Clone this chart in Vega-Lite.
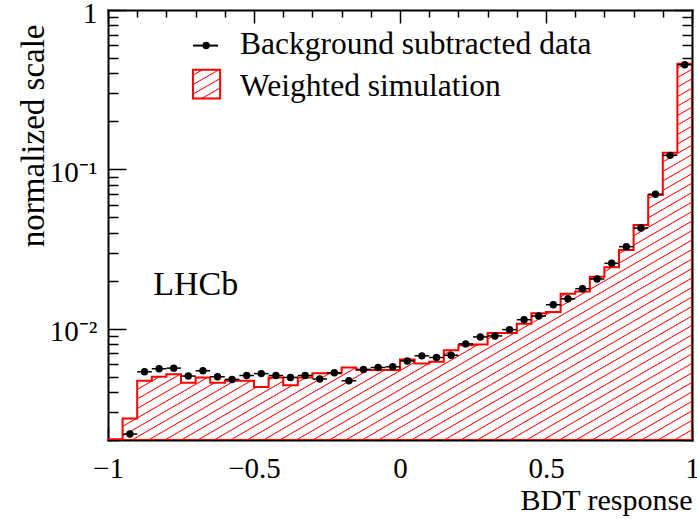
{
  "$schema": "https://vega.github.io/schema/vega-lite/v6.json",
  "width": 584,
  "height": 430,
  "autosize": {"type": "none"},
  "padding": {"left": 108, "top": 10, "right": 5, "bottom": 79},
  "background": "white",
  "config": {
    "view": {"stroke": null},
    "axis": {"labelFont": "Liberation Serif", "titleFont": "Liberation Serif", "domainColor": "black", "domainWidth": 2, "domainCap": "square", "tickColor": "black", "tickWidth": 1.5, "labelColor": "black", "titleColor": "black", "grid": false, "titleFontWeight": "normal", "labelFlush": false, "labelOverlap": false, "zindex": 1}
  },
  "data": {"values": [
    {"lo": -1, "hi": -0.95, "mid": -0.975, "sim": 0.00202, "data": null},
    {"lo": -0.95, "hi": -0.9, "mid": -0.925, "sim": 0.00273, "data": 0.00218},
    {"lo": -0.9, "hi": -0.85, "mid": -0.875, "sim": 0.00471, "data": 0.00536},
    {"lo": -0.85, "hi": -0.8, "mid": -0.825, "sim": 0.00499, "data": 0.0056},
    {"lo": -0.8, "hi": -0.75, "mid": -0.775, "sim": 0.00518, "data": 0.00565},
    {"lo": -0.75, "hi": -0.7, "mid": -0.725, "sim": 0.00458, "data": 0.00504},
    {"lo": -0.7, "hi": -0.65, "mid": -0.675, "sim": 0.00494, "data": 0.00544},
    {"lo": -0.65, "hi": -0.6, "mid": -0.625, "sim": 0.00458, "data": 0.00499},
    {"lo": -0.6, "hi": -0.55, "mid": -0.575, "sim": 0.00471, "data": 0.0048},
    {"lo": -0.55, "hi": -0.5, "mid": -0.525, "sim": 0.00471, "data": 0.00508},
    {"lo": -0.5, "hi": -0.45, "mid": -0.475, "sim": 0.0043, "data": 0.00522},
    {"lo": -0.45, "hi": -0.4, "mid": -0.425, "sim": 0.00494, "data": 0.00508},
    {"lo": -0.4, "hi": -0.35, "mid": -0.375, "sim": 0.00442, "data": 0.00494},
    {"lo": -0.35, "hi": -0.3, "mid": -0.325, "sim": 0.00494, "data": 0.00508},
    {"lo": -0.3, "hi": -0.25, "mid": -0.275, "sim": 0.00525, "data": 0.00483},
    {"lo": -0.25, "hi": -0.2, "mid": -0.225, "sim": 0.00525, "data": 0.00528},
    {"lo": -0.2, "hi": -0.15, "mid": -0.175, "sim": 0.0057, "data": 0.00471},
    {"lo": -0.15, "hi": -0.1, "mid": -0.125, "sim": 0.0055, "data": 0.00555},
    {"lo": -0.1, "hi": -0.05, "mid": -0.075, "sim": 0.0055, "data": 0.0057},
    {"lo": -0.05, "hi": 0, "mid": -0.025, "sim": 0.0055, "data": 0.00576},
    {"lo": 0, "hi": 0.05, "mid": 0.025, "sim": 0.0064, "data": 0.00627},
    {"lo": 0.05, "hi": 0.1, "mid": 0.075, "sim": 0.00604, "data": 0.00675},
    {"lo": 0.1, "hi": 0.15, "mid": 0.125, "sim": 0.00619, "data": 0.00659},
    {"lo": 0.15, "hi": 0.2, "mid": 0.175, "sim": 0.00732, "data": 0.00681},
    {"lo": 0.2, "hi": 0.25, "mid": 0.225, "sim": 0.00787, "data": 0.00802},
    {"lo": 0.25, "hi": 0.3, "mid": 0.275, "sim": 0.00794, "data": 0.00887},
    {"lo": 0.3, "hi": 0.35, "mid": 0.325, "sim": 0.0094, "data": 0.009},
    {"lo": 0.35, "hi": 0.4, "mid": 0.375, "sim": 0.0094, "data": 0.00986},
    {"lo": 0.4, "hi": 0.45, "mid": 0.425, "sim": 0.01075, "data": 0.01138},
    {"lo": 0.45, "hi": 0.5, "mid": 0.475, "sim": 0.0125, "data": 0.012},
    {"lo": 0.5, "hi": 0.55, "mid": 0.525, "sim": 0.0127, "data": 0.01413},
    {"lo": 0.55, "hi": 0.6, "mid": 0.575, "sim": 0.01655, "data": 0.0154},
    {"lo": 0.6, "hi": 0.65, "mid": 0.625, "sim": 0.0171, "data": 0.0178},
    {"lo": 0.65, "hi": 0.7, "mid": 0.675, "sim": 0.0212, "data": 0.0205},
    {"lo": 0.7, "hi": 0.75, "mid": 0.725, "sim": 0.0243, "data": 0.0257},
    {"lo": 0.75, "hi": 0.8, "mid": 0.775, "sim": 0.0312, "data": 0.0327},
    {"lo": 0.8, "hi": 0.85, "mid": 0.825, "sim": 0.0447, "data": 0.0428},
    {"lo": 0.85, "hi": 0.9, "mid": 0.875, "sim": 0.0691, "data": 0.0698},
    {"lo": 0.9, "hi": 0.95, "mid": 0.925, "sim": 0.127, "data": 0.1224},
    {"lo": 0.95, "hi": 1, "mid": 0.975, "sim": 0.46, "data": 0.453}
  ]},
  "layer": [
    {
      "transform": [{"fold": ["lo", "hi"], "as": ["ek", "edge"]}],
      "mark": {
        "type": "area", "clip": true, "stroke": "#ff0000", "strokeWidth": 2, "interpolate": "linear",
        "fill": {"gradient": "linear", "x1": 0, "y1": 0, "x2": 0.9424, "y2": 1.0516, "stops": [
          {"offset": 0, "color": "#ffffff"}, {"offset": 0.0015, "color": "#ff0000"}, {"offset": 0.003, "color": "#ffffff"},
          {"offset": 0.0133, "color": "#ffffff"}, {"offset": 0.0148, "color": "#ff0000"}, {"offset": 0.0163, "color": "#ffffff"},
          {"offset": 0.0266, "color": "#ffffff"}, {"offset": 0.0281, "color": "#ff0000"}, {"offset": 0.0296, "color": "#ffffff"},
          {"offset": 0.0399, "color": "#ffffff"}, {"offset": 0.0414, "color": "#ff0000"}, {"offset": 0.0429, "color": "#ffffff"},
          {"offset": 0.0532, "color": "#ffffff"}, {"offset": 0.0547, "color": "#ff0000"}, {"offset": 0.0562, "color": "#ffffff"},
          {"offset": 0.0665, "color": "#ffffff"}, {"offset": 0.068, "color": "#ff0000"}, {"offset": 0.0695, "color": "#ffffff"},
          {"offset": 0.0798, "color": "#ffffff"}, {"offset": 0.0813, "color": "#ff0000"}, {"offset": 0.0828, "color": "#ffffff"},
          {"offset": 0.0931, "color": "#ffffff"}, {"offset": 0.0946, "color": "#ff0000"}, {"offset": 0.0961, "color": "#ffffff"},
          {"offset": 0.1064, "color": "#ffffff"}, {"offset": 0.1079, "color": "#ff0000"}, {"offset": 0.1094, "color": "#ffffff"},
          {"offset": 0.1197, "color": "#ffffff"}, {"offset": 0.1212, "color": "#ff0000"}, {"offset": 0.1227, "color": "#ffffff"},
          {"offset": 0.133, "color": "#ffffff"}, {"offset": 0.1345, "color": "#ff0000"}, {"offset": 0.136, "color": "#ffffff"},
          {"offset": 0.1463, "color": "#ffffff"}, {"offset": 0.1478, "color": "#ff0000"}, {"offset": 0.1493, "color": "#ffffff"},
          {"offset": 0.1596, "color": "#ffffff"}, {"offset": 0.1611, "color": "#ff0000"}, {"offset": 0.1626, "color": "#ffffff"},
          {"offset": 0.1729, "color": "#ffffff"}, {"offset": 0.1744, "color": "#ff0000"}, {"offset": 0.1759, "color": "#ffffff"},
          {"offset": 0.1862, "color": "#ffffff"}, {"offset": 0.1877, "color": "#ff0000"}, {"offset": 0.1892, "color": "#ffffff"},
          {"offset": 0.1995, "color": "#ffffff"}, {"offset": 0.201, "color": "#ff0000"}, {"offset": 0.2025, "color": "#ffffff"},
          {"offset": 0.2128, "color": "#ffffff"}, {"offset": 0.2143, "color": "#ff0000"}, {"offset": 0.2158, "color": "#ffffff"},
          {"offset": 0.2261, "color": "#ffffff"}, {"offset": 0.2276, "color": "#ff0000"}, {"offset": 0.2291, "color": "#ffffff"},
          {"offset": 0.2394, "color": "#ffffff"}, {"offset": 0.2409, "color": "#ff0000"}, {"offset": 0.2424, "color": "#ffffff"},
          {"offset": 0.2527, "color": "#ffffff"}, {"offset": 0.2542, "color": "#ff0000"}, {"offset": 0.2557, "color": "#ffffff"},
          {"offset": 0.266, "color": "#ffffff"}, {"offset": 0.2675, "color": "#ff0000"}, {"offset": 0.269, "color": "#ffffff"},
          {"offset": 0.2793, "color": "#ffffff"}, {"offset": 0.2808, "color": "#ff0000"}, {"offset": 0.2823, "color": "#ffffff"},
          {"offset": 0.2926, "color": "#ffffff"}, {"offset": 0.2941, "color": "#ff0000"}, {"offset": 0.2956, "color": "#ffffff"},
          {"offset": 0.3059, "color": "#ffffff"}, {"offset": 0.3074, "color": "#ff0000"}, {"offset": 0.3089, "color": "#ffffff"},
          {"offset": 0.3192, "color": "#ffffff"}, {"offset": 0.3207, "color": "#ff0000"}, {"offset": 0.3222, "color": "#ffffff"},
          {"offset": 0.3325, "color": "#ffffff"}, {"offset": 0.334, "color": "#ff0000"}, {"offset": 0.3355, "color": "#ffffff"},
          {"offset": 0.3458, "color": "#ffffff"}, {"offset": 0.3473, "color": "#ff0000"}, {"offset": 0.3488, "color": "#ffffff"},
          {"offset": 0.3591, "color": "#ffffff"}, {"offset": 0.3606, "color": "#ff0000"}, {"offset": 0.3621, "color": "#ffffff"},
          {"offset": 0.3724, "color": "#ffffff"}, {"offset": 0.3739, "color": "#ff0000"}, {"offset": 0.3754, "color": "#ffffff"},
          {"offset": 0.3857, "color": "#ffffff"}, {"offset": 0.3872, "color": "#ff0000"}, {"offset": 0.3887, "color": "#ffffff"},
          {"offset": 0.399, "color": "#ffffff"}, {"offset": 0.4005, "color": "#ff0000"}, {"offset": 0.402, "color": "#ffffff"},
          {"offset": 0.4123, "color": "#ffffff"}, {"offset": 0.4138, "color": "#ff0000"}, {"offset": 0.4153, "color": "#ffffff"},
          {"offset": 0.4256, "color": "#ffffff"}, {"offset": 0.4271, "color": "#ff0000"}, {"offset": 0.4286, "color": "#ffffff"},
          {"offset": 0.4389, "color": "#ffffff"}, {"offset": 0.4404, "color": "#ff0000"}, {"offset": 0.4419, "color": "#ffffff"},
          {"offset": 0.4522, "color": "#ffffff"}, {"offset": 0.4537, "color": "#ff0000"}, {"offset": 0.4552, "color": "#ffffff"},
          {"offset": 0.4655, "color": "#ffffff"}, {"offset": 0.467, "color": "#ff0000"}, {"offset": 0.4685, "color": "#ffffff"},
          {"offset": 0.4788, "color": "#ffffff"}, {"offset": 0.4803, "color": "#ff0000"}, {"offset": 0.4818, "color": "#ffffff"},
          {"offset": 0.4921, "color": "#ffffff"}, {"offset": 0.4936, "color": "#ff0000"}, {"offset": 0.4951, "color": "#ffffff"},
          {"offset": 0.5054, "color": "#ffffff"}, {"offset": 0.5069, "color": "#ff0000"}, {"offset": 0.5084, "color": "#ffffff"},
          {"offset": 0.5187, "color": "#ffffff"}, {"offset": 0.5202, "color": "#ff0000"}, {"offset": 0.5217, "color": "#ffffff"},
          {"offset": 0.532, "color": "#ffffff"}, {"offset": 0.5335, "color": "#ff0000"}, {"offset": 0.535, "color": "#ffffff"},
          {"offset": 0.5453, "color": "#ffffff"}, {"offset": 0.5468, "color": "#ff0000"}, {"offset": 0.5483, "color": "#ffffff"},
          {"offset": 0.5586, "color": "#ffffff"}, {"offset": 0.5601, "color": "#ff0000"}, {"offset": 0.5616, "color": "#ffffff"},
          {"offset": 0.5719, "color": "#ffffff"}, {"offset": 0.5734, "color": "#ff0000"}, {"offset": 0.5749, "color": "#ffffff"},
          {"offset": 0.5852, "color": "#ffffff"}, {"offset": 0.5867, "color": "#ff0000"}, {"offset": 0.5882, "color": "#ffffff"},
          {"offset": 0.5985, "color": "#ffffff"}, {"offset": 0.6, "color": "#ff0000"}, {"offset": 0.6015, "color": "#ffffff"},
          {"offset": 0.6118, "color": "#ffffff"}, {"offset": 0.6133, "color": "#ff0000"}, {"offset": 0.6148, "color": "#ffffff"},
          {"offset": 0.6251, "color": "#ffffff"}, {"offset": 0.6266, "color": "#ff0000"}, {"offset": 0.6281, "color": "#ffffff"},
          {"offset": 0.6384, "color": "#ffffff"}, {"offset": 0.6399, "color": "#ff0000"}, {"offset": 0.6414, "color": "#ffffff"},
          {"offset": 0.6517, "color": "#ffffff"}, {"offset": 0.6532, "color": "#ff0000"}, {"offset": 0.6547, "color": "#ffffff"},
          {"offset": 0.665, "color": "#ffffff"}, {"offset": 0.6665, "color": "#ff0000"}, {"offset": 0.668, "color": "#ffffff"},
          {"offset": 0.6783, "color": "#ffffff"}, {"offset": 0.6798, "color": "#ff0000"}, {"offset": 0.6813, "color": "#ffffff"},
          {"offset": 0.6916, "color": "#ffffff"}, {"offset": 0.6931, "color": "#ff0000"}, {"offset": 0.6946, "color": "#ffffff"},
          {"offset": 0.7049, "color": "#ffffff"}, {"offset": 0.7064, "color": "#ff0000"}, {"offset": 0.7079, "color": "#ffffff"},
          {"offset": 0.7182, "color": "#ffffff"}, {"offset": 0.7197, "color": "#ff0000"}, {"offset": 0.7212, "color": "#ffffff"},
          {"offset": 0.7315, "color": "#ffffff"}, {"offset": 0.733, "color": "#ff0000"}, {"offset": 0.7345, "color": "#ffffff"},
          {"offset": 0.7448, "color": "#ffffff"}, {"offset": 0.7463, "color": "#ff0000"}, {"offset": 0.7478, "color": "#ffffff"},
          {"offset": 0.7581, "color": "#ffffff"}, {"offset": 0.7596, "color": "#ff0000"}, {"offset": 0.7611, "color": "#ffffff"},
          {"offset": 0.7714, "color": "#ffffff"}, {"offset": 0.7729, "color": "#ff0000"}, {"offset": 0.7744, "color": "#ffffff"},
          {"offset": 0.7847, "color": "#ffffff"}, {"offset": 0.7862, "color": "#ff0000"}, {"offset": 0.7877, "color": "#ffffff"},
          {"offset": 0.798, "color": "#ffffff"}, {"offset": 0.7995, "color": "#ff0000"}, {"offset": 0.801, "color": "#ffffff"},
          {"offset": 0.8113, "color": "#ffffff"}, {"offset": 0.8128, "color": "#ff0000"}, {"offset": 0.8143, "color": "#ffffff"},
          {"offset": 0.8246, "color": "#ffffff"}, {"offset": 0.8261, "color": "#ff0000"}, {"offset": 0.8276, "color": "#ffffff"},
          {"offset": 0.8379, "color": "#ffffff"}, {"offset": 0.8394, "color": "#ff0000"}, {"offset": 0.8409, "color": "#ffffff"},
          {"offset": 0.8512, "color": "#ffffff"}, {"offset": 0.8527, "color": "#ff0000"}, {"offset": 0.8542, "color": "#ffffff"},
          {"offset": 0.8645, "color": "#ffffff"}, {"offset": 0.866, "color": "#ff0000"}, {"offset": 0.8675, "color": "#ffffff"},
          {"offset": 0.8778, "color": "#ffffff"}, {"offset": 0.8793, "color": "#ff0000"}, {"offset": 0.8808, "color": "#ffffff"},
          {"offset": 0.8911, "color": "#ffffff"}, {"offset": 0.8926, "color": "#ff0000"}, {"offset": 0.8941, "color": "#ffffff"},
          {"offset": 0.9044, "color": "#ffffff"}, {"offset": 0.9059, "color": "#ff0000"}, {"offset": 0.9074, "color": "#ffffff"},
          {"offset": 0.9177, "color": "#ffffff"}, {"offset": 0.9192, "color": "#ff0000"}, {"offset": 0.9207, "color": "#ffffff"},
          {"offset": 0.931, "color": "#ffffff"}, {"offset": 0.9325, "color": "#ff0000"}, {"offset": 0.934, "color": "#ffffff"},
          {"offset": 0.9443, "color": "#ffffff"}, {"offset": 0.9458, "color": "#ff0000"}, {"offset": 0.9473, "color": "#ffffff"},
          {"offset": 0.9576, "color": "#ffffff"}, {"offset": 0.9591, "color": "#ff0000"}, {"offset": 0.9606, "color": "#ffffff"},
          {"offset": 0.9709, "color": "#ffffff"}, {"offset": 0.9724, "color": "#ff0000"}, {"offset": 0.9739, "color": "#ffffff"},
          {"offset": 0.9842, "color": "#ffffff"}, {"offset": 0.9857, "color": "#ff0000"}, {"offset": 0.9872, "color": "#ffffff"},
          {"offset": 0.9975, "color": "#ffffff"}, {"offset": 0.999, "color": "#ff0000"}, {"offset": 1, "color": "#ffffff"}
        ]}
      },
      "encoding": {
        "x": {"field": "edge", "type": "quantitative", "scale": {"domain": [-1, 1], "nice": false, "zero": false},
          "axis": {"orient": "bottom", "values": [-1, -0.9, -0.8, -0.7, -0.6, -0.5, -0.4, -0.3, -0.2, -0.1, 0, 0.1, 0.2, 0.3, 0.4, 0.5, 0.6, 0.7, 0.8, 0.9, 1],
            "format": "~g",
            "labelExpr": "abs(datum.value*2-round(datum.value*2))<1e-6 ? datum.label : ''",
            "tickSize": {"condition": {"test": "abs(datum.value*2-round(datum.value*2))<1e-6", "value": -13}, "value": -7},
            "labelFontSize": 29, "labelBaseline": "alphabetic", "labelPadding": 50,
            "title": "BDT response", "titleFontSize": 30, "titleAlign": "right", "titleBaseline": "alphabetic", "titleX": 584, "titleY": 69}},
        "y": {"field": "sim", "type": "quantitative", "stack": null, "scale": {"type": "log", "domain": [0.002, 1], "nice": false},
          "axis": {"orient": "left", "values": [0.002, 0.003, 0.004, 0.005, 0.006, 0.007, 0.008, 0.009, 0.01, 0.02, 0.03, 0.04, 0.05, 0.06, 0.07, 0.08, 0.09, 0.1, 0.2, 0.3, 0.4, 0.5, 0.6, 0.7, 0.8, 0.9, 1],
            "labelExpr": "datum.value==1 ? '1' : datum.value==0.1 ? '10⁻¹' : datum.value==0.01 ? '10⁻²' : ''",
            "tickSize": {"condition": {"test": "datum.value==1||datum.value==0.1||datum.value==0.01", "value": -18}, "value": -10},
            "labelFontSize": 29, "labelPadding": 29, "labelOffset": 3,
            "title": "normalized scale", "titleFontSize": 33, "titleAngle": -90, "titleAlign": "right", "titleBaseline": "alphabetic", "titleX": -65, "titleY": 14}},
        "y2": {"datum": 0.002}
      }
    },
    {
      "transform": [{"filter": "isValid(datum.data)"}],
      "mark": {"type": "rule", "clip": true, "color": "black", "strokeWidth": 1.5},
      "encoding": {
        "x": {"field": "lo", "type": "quantitative", "scale": {"domain": [-1, 1], "nice": false, "zero": false}, "axis": null},
        "x2": {"field": "hi"},
        "y": {"field": "data", "type": "quantitative", "scale": {"type": "log", "domain": [0.002, 1], "nice": false}, "axis": null}
      }
    },
    {
      "transform": [{"filter": "isValid(datum.data)"}],
      "mark": {"type": "point", "clip": true, "filled": true, "color": "black", "size": 55, "opacity": 1},
      "encoding": {
        "x": {"field": "mid", "type": "quantitative", "scale": {"domain": [-1, 1], "nice": false, "zero": false},
          "axis": {"orient": "top", "values": [-1, -0.9, -0.8, -0.7, -0.6, -0.5, -0.4, -0.3, -0.2, -0.1, 0, 0.1, 0.2, 0.3, 0.4, 0.5, 0.6, 0.7, 0.8, 0.9, 1],
            "labels": false, "title": null,
            "tickSize": {"condition": {"test": "abs(datum.value*2-round(datum.value*2))<1e-6", "value": -13}, "value": -7}}},
        "y": {"field": "data", "type": "quantitative", "scale": {"type": "log", "domain": [0.002, 1], "nice": false},
          "axis": {"orient": "right", "values": [0.002, 0.003, 0.004, 0.005, 0.006, 0.007, 0.008, 0.009, 0.01, 0.02, 0.03, 0.04, 0.05, 0.06, 0.07, 0.08, 0.09, 0.1, 0.2, 0.3, 0.4, 0.5, 0.6, 0.7, 0.8, 0.9, 1],
            "labels": false, "title": null,
            "tickSize": {"condition": {"test": "datum.value==1||datum.value==0.1||datum.value==0.01", "value": -18}, "value": -10}}}
      }
    },
    {
      "data": {"values": [{}]},
      "mark": {"type": "rule", "color": "black", "strokeWidth": 2},
      "encoding": {
        "x": {"datum": -0.709, "type": "quantitative", "scale": {"domain": [-1, 1], "nice": false, "zero": false}, "axis": null},
        "x2": {"datum": -0.623},
        "y": {"datum": 0.598, "type": "quantitative", "scale": {"type": "log", "domain": [0.002, 1], "nice": false}, "axis": null}
      }
    },
    {
      "data": {"values": [{}]},
      "mark": {"type": "point", "filled": true, "color": "black", "size": 55, "opacity": 1},
      "encoding": {
        "x": {"datum": -0.664, "type": "quantitative", "scale": {"domain": [-1, 1], "nice": false, "zero": false}, "axis": null},
        "y": {"datum": 0.598, "type": "quantitative", "scale": {"type": "log", "domain": [0.002, 1], "nice": false}, "axis": null}
      }
    },
    {
      "data": {"values": [{}]},
      "mark": {"type": "rect", "stroke": "#ff0000", "strokeWidth": 2,
        "fill": {"gradient": "linear", "x1": 0, "y1": 0, "x2": 0.6414, "y2": 1.1927, "stops": [
          {"offset": 0, "color": "#ffffff"},
          {"offset": 0.1, "color": "#ffffff"}, {"offset": 0.124, "color": "#ff0000"}, {"offset": 0.148, "color": "#ffffff"},
          {"offset": 0.3124, "color": "#ffffff"}, {"offset": 0.3364, "color": "#ff0000"}, {"offset": 0.3604, "color": "#ffffff"},
          {"offset": 0.5248, "color": "#ffffff"}, {"offset": 0.5488, "color": "#ff0000"}, {"offset": 0.5728, "color": "#ffffff"},
          {"offset": 0.7372, "color": "#ffffff"}, {"offset": 0.7612, "color": "#ff0000"}, {"offset": 0.7852, "color": "#ffffff"},
          {"offset": 0.9496, "color": "#ffffff"}, {"offset": 0.9736, "color": "#ff0000"}, {"offset": 0.9976, "color": "#ffffff"},
          {"offset": 1, "color": "#ffffff"}
        ]}},
      "encoding": {
        "x": {"datum": -0.709, "type": "quantitative", "scale": {"domain": [-1, 1], "nice": false, "zero": false}, "axis": null},
        "x2": {"datum": -0.616},
        "y": {"datum": 0.422, "type": "quantitative", "scale": {"type": "log", "domain": [0.002, 1], "nice": false}, "axis": null},
        "y2": {"datum": 0.278}
      }
    },
    {
      "data": {"values": [{"label": "Background subtracted data", "yv": 0.531}, {"label": "Weighted simulation", "yv": 0.287}]},
      "mark": {"type": "text", "align": "left", "baseline": "alphabetic", "fontSize": 31.5, "font": "Liberation Serif", "color": "black"},
      "encoding": {
        "x": {"datum": -0.548, "type": "quantitative", "scale": {"domain": [-1, 1], "nice": false, "zero": false}, "axis": null},
        "y": {"field": "yv", "type": "quantitative", "scale": {"type": "log", "domain": [0.002, 1], "nice": false}, "axis": null},
        "text": {"field": "label"}
      }
    },
    {
      "data": {"values": [{"label": "LHCb"}]},
      "mark": {"type": "text", "align": "left", "baseline": "alphabetic", "fontSize": 34, "font": "Liberation Serif", "color": "black"},
      "encoding": {
        "x": {"datum": -0.845, "type": "quantitative", "scale": {"domain": [-1, 1], "nice": false, "zero": false}, "axis": null},
        "y": {"datum": 0.01615, "type": "quantitative", "scale": {"type": "log", "domain": [0.002, 1], "nice": false}, "axis": null},
        "text": {"field": "label"}
      }
    }
  ],
  "resolve": {"axis": {"x": "independent", "y": "independent"}}
}
